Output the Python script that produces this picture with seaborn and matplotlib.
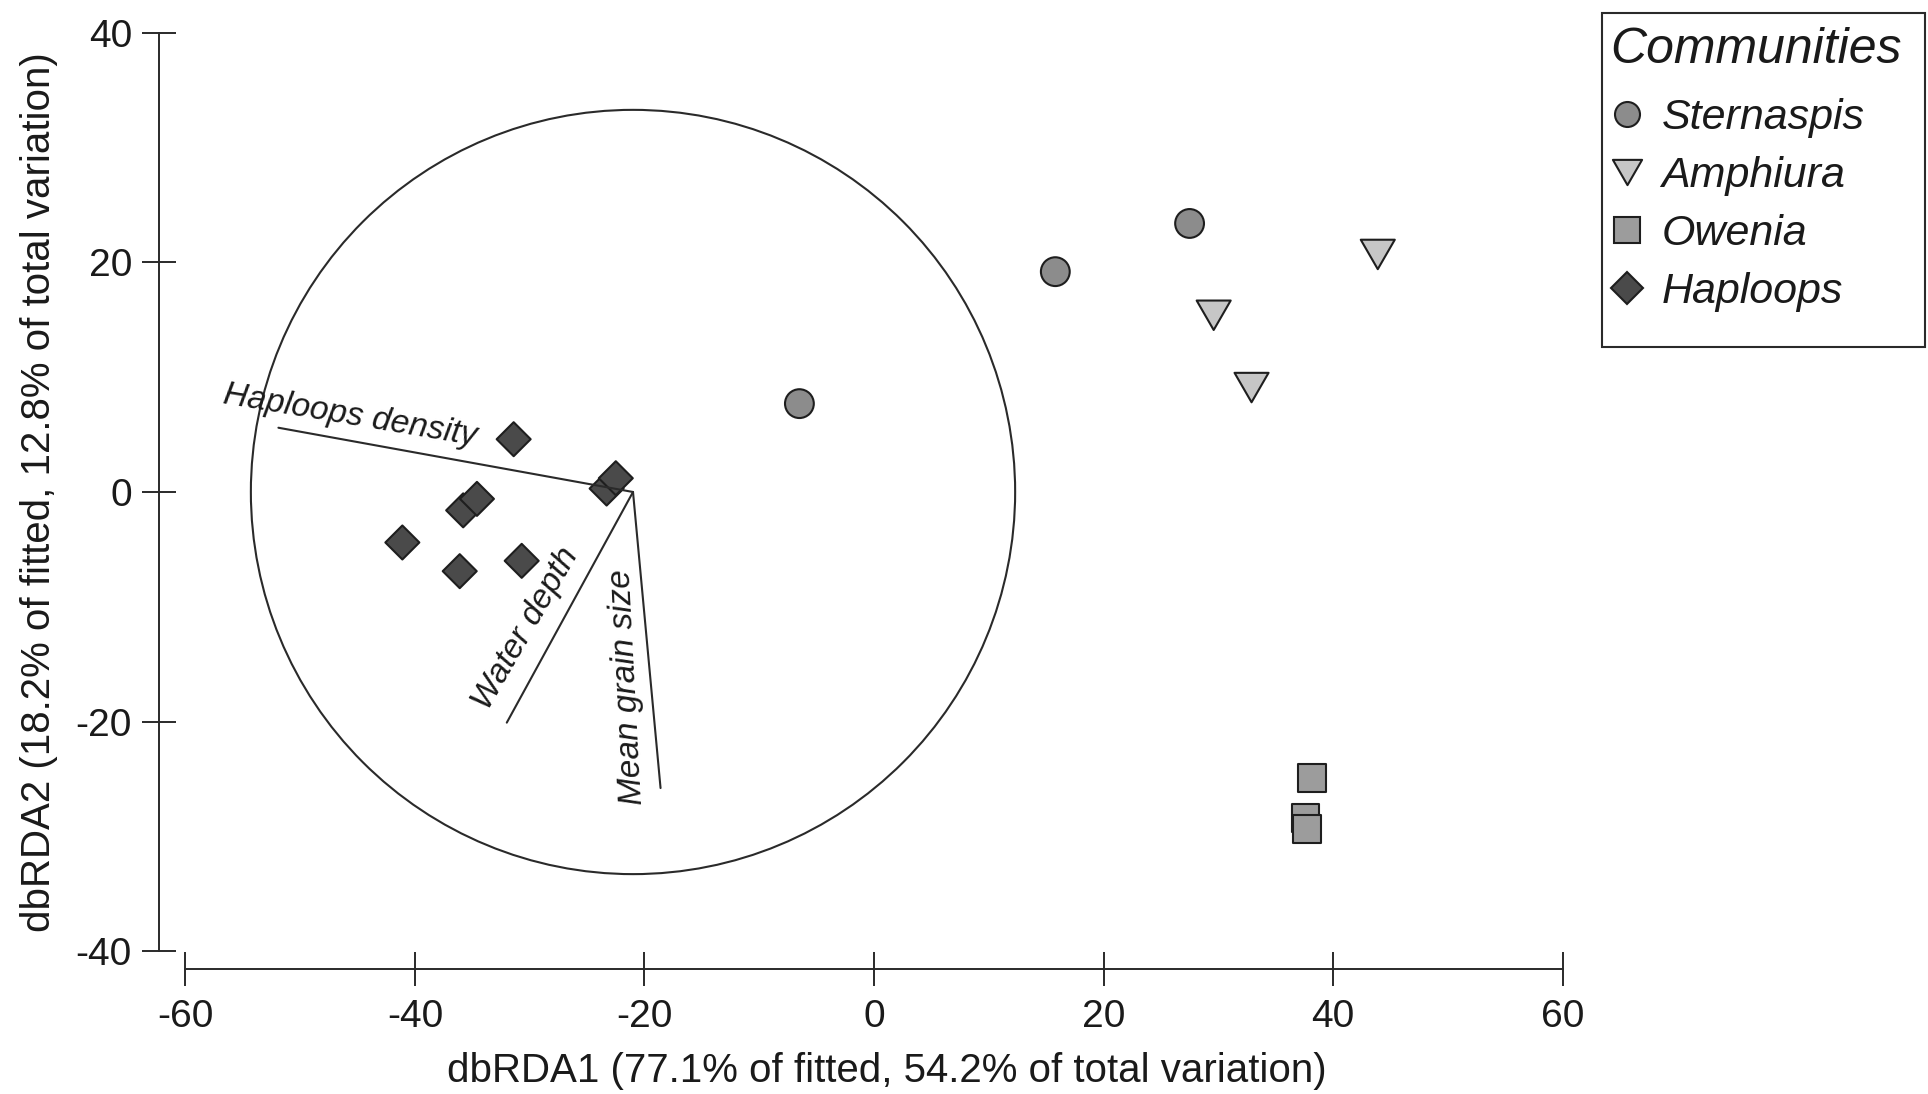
import numpy as np
import pandas as pd
import matplotlib
matplotlib.use("Agg")
import matplotlib.pyplot as plt
from matplotlib.patches import Circle, Rectangle
from matplotlib.lines import Line2D
from matplotlib.path import Path
from matplotlib.font_manager import FontProperties
import seaborn as sns

# ---------------- data ----------------
communities = ["Sternaspis", "Amphiura", "Owenia", "Haploops"]
sternaspis_x = [-6.5, 15.8, 27.5]
sternaspis_y = [7.7, 19.2, 23.4]
amphiura_x = [43.9, 29.6, 32.9]
amphiura_y = [20.7, 15.4, 9.1]
owenia_x = [38.2, 37.6, 37.7]
owenia_y = [-24.9, -28.4, -29.4]
haploops_x = [-31.4, -23.3, -22.5, -35.8, -34.6, -41.1, -36.1, -30.7]
haploops_y = [4.6, 0.3, 1.2, -1.6, -0.6, -4.4, -6.9, -6.0]

vector_names = ["Haploops density", "Water depth", "Mean grain size"]
vector_end_x = [-51.9, -32.0, -18.6]
vector_end_y = [5.6, -20.1, -25.8]
vector_origin_x = -21.0
vector_origin_y = 0.0
circle_radius = 33.3

x_ticks = [-60, -40, -20, 0, 20, 40, 60]
y_ticks = [-40, -20, 0, 20, 40]
x_label = "dbRDA1 (77.1% of fitted, 54.2% of total variation)"
y_label = "dbRDA2 (18.2% of fitted, 12.8% of total variation)"
legend_title = "Communities"

# ---------------- styles ----------------
fill_colors = {"Sternaspis": "#8c8c8c", "Amphiura": "#c6c6c6",
               "Owenia": "#9c9c9c", "Haploops": "#4a4a4a"}
tri_down = Path([(-1, 0.866), (1, 0.866), (0, -0.866), (-1, 0.866)],
                [Path.MOVETO, Path.LINETO, Path.LINETO, Path.CLOSEPOLY])
markers = {"Sternaspis": "o", "Amphiura": tri_down, "Owenia": "s", "Haploops": "D"}
sizes = {"Sternaspis": 430, "Amphiura": 600, "Owenia": 400, "Haploops": 300}
legend_ms = {"Sternaspis": 18, "Amphiura": 21, "Owenia": 19, "Haploops": 16}
edge = "#1e1e1e"
ink = "#1a1a1a"

sns.set_style("ticks")
plt.rcParams["font.family"] = ["Liberation Sans", "DejaVu Sans"]
plt.rcParams["axes.unicode_minus"] = False

df = pd.DataFrame({
    "x": sternaspis_x + amphiura_x + owenia_x + haploops_x,
    "y": sternaspis_y + amphiura_y + owenia_y + haploops_y,
    "community": (["Sternaspis"] * len(sternaspis_x) + ["Amphiura"] * len(amphiura_x)
                  + ["Owenia"] * len(owenia_x) + ["Haploops"] * len(haploops_x)),
})

fig = plt.figure(figsize=(19.28, 10.94), dpi=100)
ax = fig.add_axes([0.07536, 0.10448, 0.74699, 0.87587])

sns.scatterplot(data=df, x="x", y="y", hue="community", style="community",
                size="community", hue_order=communities, style_order=communities,
                size_order=communities, palette=fill_colors, markers=markers,
                sizes=sizes, edgecolor=edge, linewidth=1.5, legend=False, ax=ax,
                zorder=2)

# circle of correlation
ax.add_patch(Circle((vector_origin_x, vector_origin_y), circle_radius, fill=False,
                    edgecolor="#2a2a2a", linewidth=1.5, zorder=1))
# vectors
for ex, ey in zip(vector_end_x, vector_end_y):
    ax.plot([vector_origin_x, ex], [vector_origin_y, ey], color="#2a2a2a",
            linewidth=1.5, zorder=3)

vfont = dict(fontsize=24, style="italic", color=ink)
ax.text(-56.8, 7.74, vector_names[0], rotation=-9.5, ha="left", va="baseline",
        rotation_mode="anchor", **vfont)
ax.text(-30.35, -11.9, vector_names[1], rotation=60, ha="center", va="center", **vfont)
ax.text(-21.5, -17.0, vector_names[2], rotation=93, ha="center", va="center", **vfont)

# axes
ax.set_xlim(-63.5, 62)
ax.set_ylim(-42.5, 41)
ax.set_xticks(x_ticks)
ax.set_yticks(y_ticks)
for side in ["top", "right"]:
    ax.spines[side].set_visible(False)
ax.spines["left"].set_position(("data", -62.3))
ax.spines["bottom"].set_position(("data", -41.6))
ax.spines["left"].set_bounds(-40, 40)
ax.spines["bottom"].set_bounds(-60, 60)
for side in ["left", "bottom"]:
    ax.spines[side].set_linewidth(1.4)
    ax.spines[side].set_color("#2a2a2a")
ax.tick_params(direction="inout", length=25, width=1.4, labelsize=28, pad=7,
               color="#2a2a2a", labelcolor=ink)
ax.tick_params(axis="x", pad=9)
ax.set_xlabel(x_label, fontsize=29, color=ink)
ax.set_ylabel(y_label, fontsize=29, color=ink)
ax.xaxis.set_label_coords(0.515, -0.0750)
ax.yaxis.set_label_coords(-0.0606, 0.509)

# legend
handles = [Line2D([], [], linestyle="none", marker=markers[c], markersize=legend_ms[c],
                  markerfacecolor=fill_colors[c], markeredgecolor=edge,
                  markeredgewidth=1.5) for c in communities]
leg = fig.legend(handles, communities, loc="upper left", bbox_to_anchor=(0.835, 0.9755),
                 frameon=False, prop=FontProperties(family="Liberation Sans", style="italic", size=31),
                 title=legend_title,
                 title_fontproperties=FontProperties(family="Liberation Sans", style="italic", size=36),
                 alignment="left", borderpad=0, labelspacing=0.42, handlelength=0.8,
                 handletextpad=0.4, borderaxespad=0)
leg._legend_box.sep = 0.42 * 31 + 5
for t in leg.get_texts():
    t.set_color(ink)
leg.get_title().set_color(ink)
fig.add_artist(Rectangle((0.8308, 0.6831), 0.1677, 0.3048, transform=fig.transFigure,
                         fill=False, edgecolor="#2a2a2a", linewidth=1.5))

fig.savefig("out.png", dpi=100)
